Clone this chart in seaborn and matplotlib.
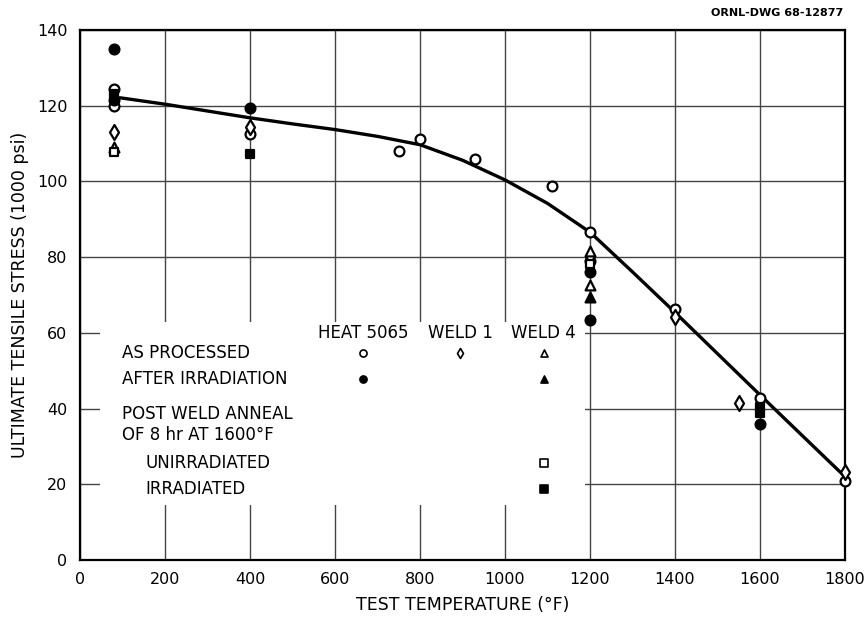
import numpy as np
import pandas as pd
import matplotlib
matplotlib.use("Agg")
import matplotlib.pyplot as plt
import seaborn as sns
from matplotlib.patches import Rectangle

# ---------------- data ----------------
heat_proc_T = [80, 80, 400, 750, 800, 930, 1110, 1200, 1200, 1400, 1600, 1800]
heat_proc_v = [124.5, 120.0, 112.5, 108.1, 111.2, 105.9, 98.8, 86.6, 79.0, 66.2, 42.7, 21.0]

heat_irr_T = [80, 80, 400, 1200, 1200, 1600]
heat_irr_v = [135.0, 121.5, 119.5, 76.2, 63.5, 35.9]

weld1_proc_T = [80, 400, 1200, 1400, 1550, 1800]
weld1_proc_v = [113.0, 114.5, 80.2, 64.3, 41.6, 23.3]

weld4_proc_T = [80, 1200, 1200]
weld4_proc_v = [109.0, 81.5, 72.6]

weld4_irr_T = [1200]
weld4_irr_v = [69.6]

pwa_unirr_T = [80, 1200]
pwa_unirr_v = [107.8, 78.3]

pwa_irr_T = [80, 400, 1600, 1600]
pwa_irr_v = [123.0, 107.2, 40.5, 38.8]

curve_T = [94, 200, 300, 400, 500, 600, 700, 800, 900, 1000, 1100, 1200,
           1300, 1400, 1500, 1600, 1700, 1800]
curve_v = [122.1, 120.4, 118.6, 116.8, 115.2, 113.7, 111.9, 109.7, 105.6, 100.4,
           94.2, 86.6, 76.1, 65.4, 54.5, 43.6, 32.8, 22.0]

x_ticks = [0, 200, 400, 600, 800, 1000, 1200, 1400, 1600, 1800]
y_ticks = [0, 20, 40, 60, 80, 100, 120, 140]

header_labels = ["HEAT 5065", "WELD 1", "WELD 4"]
row_labels = ["AS PROCESSED", "AFTER IRRADIATION", "POST WELD ANNEAL",
              "OF 8 hr AT 1600\u00b0F", "UNIRRADIATED", "IRRADIATED"]

# ---------------- figure ----------------
sns.set_theme(style="white")
plt.rcParams["font.family"] = ["DejaVu Sans"]
plt.rcParams["text.color"] = "black"

fig = plt.figure(figsize=(8.67, 6.21), dpi=100)
ax = fig.add_axes([80 / 867, 61 / 621, 765 / 867, 530 / 621])

K = "black"
W = "white"

series = [
    (heat_proc_T, heat_proc_v, "o", W, 50),
    (heat_irr_T, heat_irr_v, "o", K, 50),
    (weld1_proc_T, weld1_proc_v, "d", W, 58),
    (weld4_proc_T, weld4_proc_v, "^", W, 50),
    (weld4_irr_T, weld4_irr_v, "^", K, 50),
    (pwa_unirr_T, pwa_unirr_v, "s", W, 36),
    (pwa_irr_T, pwa_irr_v, "s", K, 36),
]

sns.lineplot(x=curve_T, y=curve_v, ax=ax, color=K, lw=2.4, zorder=3)

for T, v, m, fc, s in series:
    sns.scatterplot(x=T, y=v, ax=ax, marker=m, s=s, facecolor=fc,
                    edgecolor=K, linewidth=1.6, zorder=4, clip_on=False)

ax.set_xlim(0, 1800)
ax.set_ylim(0, 140)
ax.set_xticks(x_ticks)
ax.set_yticks(y_ticks)
ax.set_xticklabels([str(t) for t in x_ticks], fontsize=11.5)
ax.set_yticklabels([str(t) for t in y_ticks], fontsize=11.5)
ax.tick_params(axis="both", length=0, colors=K)
ax.tick_params(axis="x", pad=9)
ax.tick_params(axis="y", pad=9)

ax.set_axisbelow(True)
ax.grid(True, color="#444444", linewidth=1.0)
for sp in ax.spines.values():
    sp.set_visible(True)
    sp.set_color(K)
    sp.set_linewidth(1.6)

ax.set_xlabel("TEST TEMPERATURE (\u00b0F)", fontsize=12.5, labelpad=6, color=K)
ax.set_ylabel("ULTIMATE TENSILE STRESS (1000 psi)", fontsize=12.5, labelpad=6, color=K)

fig.text(843 / 867, 1 - 13 / 621, "ORNL-DWG 68-12877", ha="right", va="center",
         fontsize=8, fontweight="bold", color=K)

# ---------------- legend table ----------------
ax.add_patch(Rectangle((0.026, 0.104), 0.634, 0.345, transform=ax.transAxes,
                       facecolor=W, edgecolor="none", zorder=1))

col_x = [0.370, 0.497, 0.606]
for lbl, cx in zip(header_labels, col_x):
    ax.text(cx, 0.428, lbl, transform=ax.transAxes, ha="center", va="center",
            fontsize=12, zorder=5)

row_pos = [(0.055, 0.391), (0.055, 0.342), (0.055, 0.275), (0.055, 0.236),
           (0.085, 0.183), (0.085, 0.134)]
for lbl, (rx, ry) in zip(row_labels, row_pos):
    ax.text(rx, ry, lbl, transform=ax.transAxes, ha="left", va="center",
            fontsize=12, zorder=5)

leg_marks = [
    (col_x[0], 0.391, "o", W), (col_x[1], 0.391, "d", W), (col_x[2], 0.391, "^", W),
    (col_x[0], 0.342, "o", K), (col_x[2], 0.342, "^", K),
    (col_x[2], 0.183, "s", W), (col_x[2], 0.134, "s", K),
]
for mx, my, m, fc in leg_marks:
    ax.scatter([mx], [my], transform=ax.transAxes, marker=m, s=26, facecolor=fc,
               edgecolor=K, linewidth=1.2, zorder=5, clip_on=False)

fig.savefig("out.png", dpi=100, facecolor="white")
